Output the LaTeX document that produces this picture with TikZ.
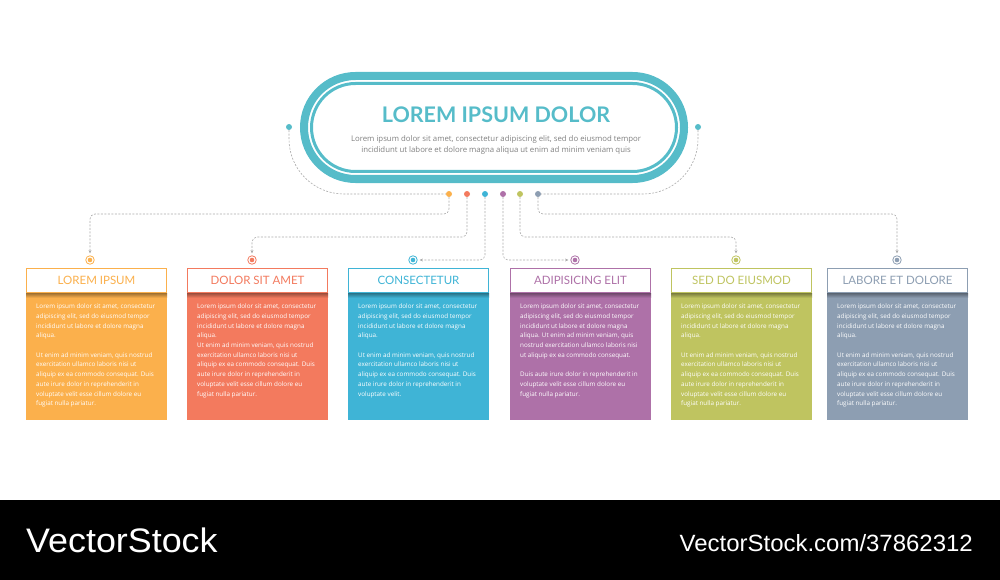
\documentclass[tikz,border=0pt]{standalone}
\usepackage{fontspec}
\setmainfont{Open Sans}
\newfontfamily\headfont{Lato}
\newfontfamily\brandfont{Liberation Sans}
\usetikzlibrary{arrows.meta, positioning}

\definecolor{ovalteal}{HTML}{56BCC9}
\definecolor{cOne}{HTML}{FBB04C}
\definecolor{cTwo}{HTML}{F37A5E}
\definecolor{cThree}{HTML}{3FB4D6}
\definecolor{cFour}{HTML}{AE71A8}
\definecolor{cFive}{HTML}{BFC460}
\definecolor{cSix}{HTML}{8D9EB2}
\definecolor{linkgrey}{HTML}{ABABAB}
\definecolor{subgrey}{HTML}{808080}

% card texts
\newcommand\paraLorem{Lorem ipsum dolor sit amet, consectetur\\adipiscing elit, sed do eiusmod tempor\\incididunt ut labore et dolore magna\\aliqua.}
\newcommand\paraUt{Ut enim ad minim veniam, quis nostrud\\exercitation ullamco laboris nisi ut\\aliquip ex ea commodo consequat. Duis\\aute irure dolor in reprehenderit in\\voluptate velit esse cillum dolore eu\\fugiat nulla pariatur.}
\newcommand\txtA{\paraLorem\\[9.7pt]\paraUt}
\newcommand\txtB{\paraLorem\\\paraUt}
\newcommand\txtC{\paraLorem\\[9.7pt]Ut enim ad minim veniam, quis nostrud\\exercitation ullamco laboris nisi ut\\aliquip ex ea commodo consequat. Duis\\aute irure dolor in reprehenderit in\\voluptate velit.}
\newcommand\txtD{Lorem ipsum dolor sit amet, consectetur\\adipiscing elit, sed do eiusmod tempor\\incididunt ut labore et dolore magna\\aliqua. Ut enim ad minim veniam, quis\\nostrud exercitation ullamco laboris nisi\\ut aliquip ex ea commodo consequat.\\[9.7pt]Duis aute irure dolor in reprehenderit in\\voluptate velit esse cillum dolore eu\\fugiat nulla pariatur.}

\tikzset{
  link/.style={draw=linkgrey, line width=0.6pt, dash pattern=on 2pt off 1.5pt, rounded corners=5pt},
  tip/.style={-{Stealth[length=3.2pt,width=3pt]}, shorten >=2pt},
  knob/.style={circle, fill=#1, inner sep=0pt, minimum size=6pt},
  target/.style={circle, draw=#1, fill=white, line width=0.8pt, inner sep=0pt, minimum size=8.5pt,
    path picture={\fill[#1] (path picture bounding box.center) circle (2.3pt);}},
  card/.style={fill=#1, inner sep=0pt, minimum width=141pt, minimum height=152pt, anchor=north west},
  cardhead/.style={fill=white, draw=#1, line width=0.8pt, text=#1, inner sep=0pt,
    minimum width=140.2pt, minimum height=24pt, anchor=north west,
    font=\headfont\fontsize{11.5}{12}\selectfont},
  cardtext/.style={text=white, inner sep=0pt, anchor=north west, align=left,
    font=\fontsize{6.3}{9.7}\selectfont},
}

\begin{document}
\begin{tikzpicture}[x=1pt, y=-1pt]
  \useasboundingbox (0,0) rectangle (1000,580);

  % title oval
  \draw[ovalteal, line width=8pt, rounded corners=51.5pt] (304,76) rectangle (684,179);
  \draw[ovalteal, line width=3pt, rounded corners=44pt] (311.5,83.5) rectangle (676.5,171.5);
  \node[font=\headfont\bfseries\fontsize{21.5}{22}\selectfont, text=ovalteal] (title) at (496,115) {LOREM IPSUM DOLOR};
  \node[font=\fontsize{7.8}{11.5}\selectfont, text=subgrey, align=center] (subtitle) at (496,145)
    {Lorem ipsum dolor sit amet, consectetur adipiscing elit, sed do eiusmod tempor\\incididunt ut labore et dolore magna aliqua ut enim ad minim veniam quis};
  \node[knob=ovalteal] (lknob) at (289,127) {};
  \node[knob=ovalteal] (rknob) at (698,127) {};

  % small dots below the oval
  \foreach \i/\tx/\col in {1/449/cOne, 2/467/cTwo, 3/485/cThree, 4/503/cFour, 5/520/cFive, 6/538/cSix}
    \node[knob=\col] (t\i) at (\tx,194) {};

  % cards
  \foreach \i/\x/\cx/\col/\ttl/\txt in {1/26/90/cOne/LOREM IPSUM/\txtA,
      2/187/252/cTwo/DOLOR SIT AMET/\txtB, 3/348/413/cThree/CONSECTETUR/\txtC,
      4/510/575/cFour/ADIPISICING ELIT/\txtD, 5/671/736/cFive/SED DO EIUSMOD/\txtA,
      6/827/897/cSix/LABORE ET DOLORE/\txtA}{
    \node[card=\col] (b\i) at (\x,268) {};
    \node[cardhead=\col] (h\i) at (b\i.north west) {\ttl};
    \shade[top color=\col!65!black, bottom color=\col] ([yshift=-0.4pt]h\i.south west) rectangle ([yshift=-5pt]h\i.south east);
    \node[cardtext] (p\i) at ([xshift=10pt,yshift=-11pt]h\i.south west) {\txt};
    \node[target=\col] (c\i) at (\cx,260) {};
  }

  % connectors
  \draw[link, rounded corners=55pt] (lknob) |- (t1);
  \draw[link, rounded corners=55pt] (rknob) |- (t6);
  \draw[link, tip] (t1) -- ++(0,20) -| (c1);
  \draw[link, tip] (t2) -- ++(0,43) -| (c2);
  \draw[link, tip] (t3) |- (c3);
  \draw[link, tip] (t4) |- (c4);
  \draw[link, tip] (t5) -- ++(0,43) -| (c5);
  \draw[link, tip] (t6) -- ++(0,20) -| (c6);

  % bottom bar
  \fill[black] (0,500) rectangle (1000,580);
  \node[font=\brandfont\fontsize{34}{34}\selectfont, text=white, anchor=west, inner sep=0pt, xscale=1.055] (brand) at (26,540) {VectorStock};
  \node[font=\brandfont\fontsize{23.5}{24}\selectfont, text=white, anchor=east, inner sep=0pt, xscale=1.02] (ref) at (973,543) {VectorStock.com/37862312};
\end{tikzpicture}
\end{document}
